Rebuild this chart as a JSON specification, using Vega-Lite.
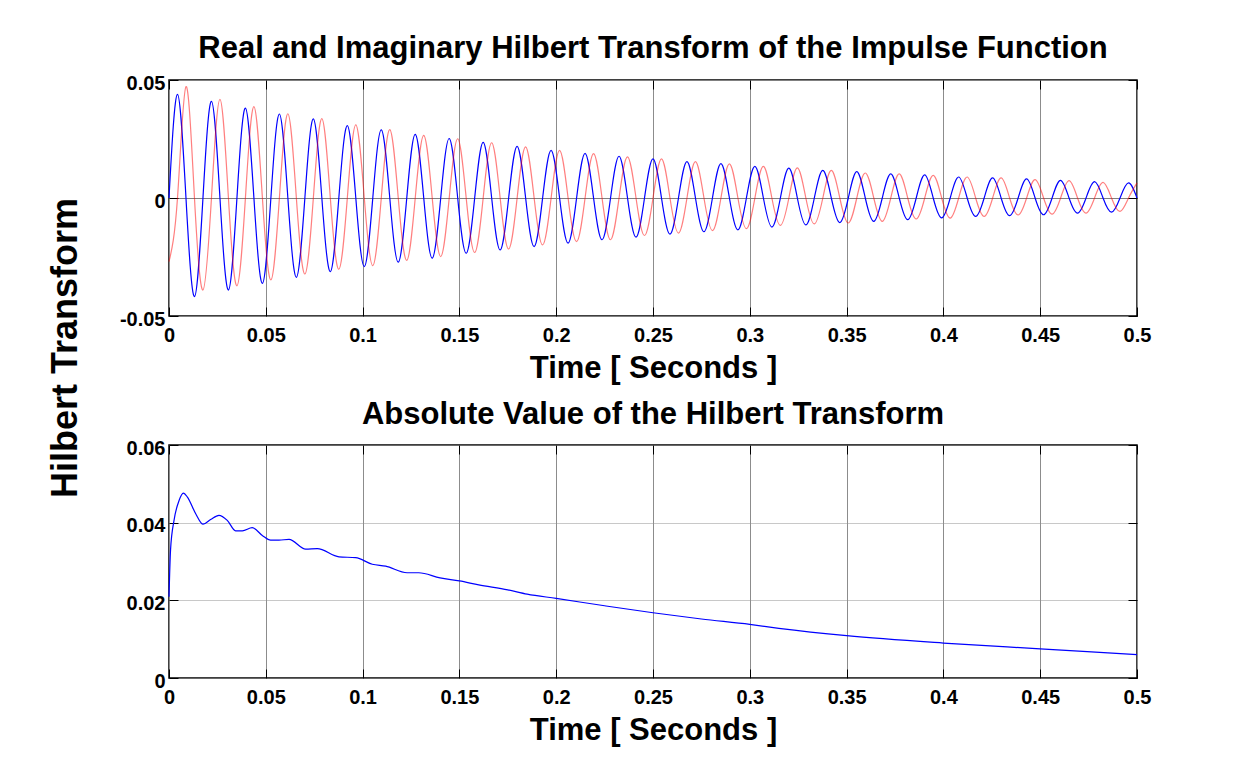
{
  "$schema": "https://vega.github.io/schema/vega-lite/v6.json",
  "background": "white",
  "padding": {"left": 46, "top": 32, "right": 20, "bottom": 10},
  "bounds": "flush",
  "spacing": 129,
  "datasets": {
    "imag": [
      {"t":0,"v":0},{"t":0.00439,"v":0.0439},{"t":0.00877,"v":0},{"t":0.01316,"v":-0.0418},
      {"t":0.01754,"v":0},{"t":0.02193,"v":0.041},{"t":0.02632,"v":0},{"t":0.0307,"v":-0.039},
      {"t":0.03509,"v":0},{"t":0.03947,"v":0.0381},{"t":0.04386,"v":0},{"t":0.04825,"v":-0.0362},
      {"t":0.05263,"v":0},{"t":0.05702,"v":0.0356},{"t":0.0614,"v":0},{"t":0.06579,"v":-0.0336},
      {"t":0.07018,"v":0},{"t":0.07456,"v":0.0335},{"t":0.07895,"v":0},{"t":0.08333,"v":-0.0312},
      {"t":0.08772,"v":0},{"t":0.09211,"v":0.0307},{"t":0.09649,"v":0},{"t":0.10088,"v":-0.0291},
      {"t":0.10526,"v":0},{"t":0.10965,"v":0.0289},{"t":0.11404,"v":0},{"t":0.11842,"v":-0.0272},
      {"t":0.12281,"v":0},{"t":0.12719,"v":0.027},{"t":0.13158,"v":0},{"t":0.13596,"v":-0.0255},
      {"t":0.14035,"v":0},{"t":0.14474,"v":0.0252},{"t":0.14912,"v":0},{"t":0.15351,"v":-0.0234},
      {"t":0.15789,"v":0},{"t":0.16228,"v":0.0236},{"t":0.16667,"v":0},{"t":0.17105,"v":-0.022},
      {"t":0.17544,"v":0},{"t":0.17982,"v":0.0219},{"t":0.18421,"v":0},{"t":0.1886,"v":-0.0206},
      {"t":0.19298,"v":0},{"t":0.19737,"v":0.0202},{"t":0.20175,"v":0},{"t":0.20614,"v":-0.0191},
      {"t":0.21053,"v":0},{"t":0.21491,"v":0.0189},{"t":0.2193,"v":0},{"t":0.22368,"v":-0.0177},
      {"t":0.22807,"v":0},{"t":0.23246,"v":0.0177},{"t":0.23684,"v":0},{"t":0.24123,"v":-0.0166},
      {"t":0.24561,"v":0},{"t":0.25,"v":0.0166},{"t":0.25439,"v":0},{"t":0.25877,"v":-0.0153},
      {"t":0.26316,"v":0},{"t":0.26754,"v":0.0154},{"t":0.27193,"v":0},{"t":0.27632,"v":-0.0143},
      {"t":0.2807,"v":0},{"t":0.28509,"v":0.0146},{"t":0.28947,"v":0},{"t":0.29386,"v":-0.0135},
      {"t":0.29825,"v":0},{"t":0.30263,"v":0.0134},{"t":0.30702,"v":0},{"t":0.3114,"v":-0.0123},
      {"t":0.31579,"v":0},{"t":0.32018,"v":0.0127},{"t":0.32456,"v":0},{"t":0.32895,"v":-0.0114},
      {"t":0.33333,"v":0},{"t":0.33772,"v":0.0117},{"t":0.34211,"v":0},{"t":0.34649,"v":-0.0104},
      {"t":0.35088,"v":0},{"t":0.35526,"v":0.0112},{"t":0.35965,"v":0},{"t":0.36404,"v":-0.0099},
      {"t":0.36842,"v":0},{"t":0.37281,"v":0.0102},{"t":0.37719,"v":0},{"t":0.38158,"v":-0.0092},
      {"t":0.38596,"v":0},{"t":0.39035,"v":0.0098},{"t":0.39474,"v":0},{"t":0.39912,"v":-0.0084},
      {"t":0.40351,"v":0},{"t":0.40789,"v":0.0089},{"t":0.41228,"v":0},{"t":0.41667,"v":-0.0078},
      {"t":0.42105,"v":0},{"t":0.42544,"v":0.0085},{"t":0.42982,"v":0},{"t":0.43421,"v":-0.0075},
      {"t":0.4386,"v":0},{"t":0.44298,"v":0.0081},{"t":0.44737,"v":0},{"t":0.45175,"v":-0.0071},
      {"t":0.45614,"v":0},{"t":0.46053,"v":0.0075},{"t":0.46491,"v":0},{"t":0.4693,"v":-0.0064},
      {"t":0.47368,"v":0},{"t":0.47807,"v":0.0069},{"t":0.48246,"v":0},{"t":0.48684,"v":-0.006},
      {"t":0.49123,"v":0},{"t":0.49561,"v":0.0064},{"t":0.5,"v":0}
    ],
    "real": [
      {"t":0,"v":-0.027},{"t":0.00439,"v":0},{"t":0.00877,"v":0.0472},{"t":0.01316,"v":0},
      {"t":0.01754,"v":-0.039},{"t":0.02193,"v":0},{"t":0.02632,"v":0.0418},{"t":0.0307,"v":0},
      {"t":0.03509,"v":-0.0372},{"t":0.03947,"v":0},{"t":0.04386,"v":0.0387},{"t":0.04825,"v":0},
      {"t":0.05263,"v":-0.0347},{"t":0.05702,"v":0},{"t":0.0614,"v":0.0357},{"t":0.06579,"v":0},
      {"t":0.07018,"v":-0.0322},{"t":0.07456,"v":0},{"t":0.07895,"v":0.0336},{"t":0.08333,"v":0},
      {"t":0.08772,"v":-0.0302},{"t":0.09211,"v":0},{"t":0.09649,"v":0.031},{"t":0.10088,"v":0},
      {"t":0.10526,"v":-0.0287},{"t":0.10965,"v":0},{"t":0.11404,"v":0.029},{"t":0.11842,"v":0},
      {"t":0.12281,"v":-0.0264},{"t":0.12719,"v":0},{"t":0.13158,"v":0.0265},{"t":0.13596,"v":0},
      {"t":0.14035,"v":-0.0248},{"t":0.14474,"v":0},{"t":0.14912,"v":0.0251},{"t":0.15351,"v":0},
      {"t":0.15789,"v":-0.0231},{"t":0.16228,"v":0},{"t":0.16667,"v":0.0234},{"t":0.17105,"v":0},
      {"t":0.17544,"v":-0.0216},{"t":0.17982,"v":0},{"t":0.18421,"v":0.0217},{"t":0.1886,"v":0},
      {"t":0.19298,"v":-0.0199},{"t":0.19737,"v":0},{"t":0.20175,"v":0.0202},{"t":0.20614,"v":0},
      {"t":0.21053,"v":-0.0185},{"t":0.21491,"v":0},{"t":0.2193,"v":0.0188},{"t":0.22368,"v":0},
      {"t":0.22807,"v":-0.0177},{"t":0.23246,"v":0},{"t":0.23684,"v":0.0174},{"t":0.24123,"v":0},
      {"t":0.24561,"v":-0.0159},{"t":0.25,"v":0},{"t":0.25439,"v":0.0166},{"t":0.25877,"v":0},
      {"t":0.26316,"v":-0.0149},{"t":0.26754,"v":0},{"t":0.27193,"v":0.0154},{"t":0.27632,"v":0},
      {"t":0.2807,"v":-0.0138},{"t":0.28509,"v":0},{"t":0.28947,"v":0.0145},{"t":0.29386,"v":0},
      {"t":0.29825,"v":-0.013},{"t":0.30263,"v":0},{"t":0.30702,"v":0.0134},{"t":0.3114,"v":0},
      {"t":0.31579,"v":-0.0116},{"t":0.32018,"v":0},{"t":0.32456,"v":0.0128},{"t":0.32895,"v":0},
      {"t":0.33333,"v":-0.011},{"t":0.33772,"v":0},{"t":0.34211,"v":0.0117},{"t":0.34649,"v":0},
      {"t":0.35088,"v":-0.0106},{"t":0.35526,"v":0},{"t":0.35965,"v":0.0106},{"t":0.36404,"v":0},
      {"t":0.36842,"v":-0.0099},{"t":0.37281,"v":0},{"t":0.37719,"v":0.0102},{"t":0.38158,"v":0},
      {"t":0.38596,"v":-0.0089},{"t":0.39035,"v":0},{"t":0.39474,"v":0.0096},{"t":0.39912,"v":0},
      {"t":0.40351,"v":-0.0085},{"t":0.40789,"v":0},{"t":0.41228,"v":0.0089},{"t":0.41667,"v":0},
      {"t":0.42105,"v":-0.0078},{"t":0.42544,"v":0},{"t":0.42982,"v":0.0085},{"t":0.43421,"v":0},
      {"t":0.4386,"v":-0.0072},{"t":0.44298,"v":0},{"t":0.44737,"v":0.0078},{"t":0.45175,"v":0},
      {"t":0.45614,"v":-0.0068},{"t":0.46053,"v":0},{"t":0.46491,"v":0.0074},{"t":0.4693,"v":0},
      {"t":0.47368,"v":-0.0064},{"t":0.47807,"v":0},{"t":0.48246,"v":0.0066},{"t":0.48684,"v":0},
      {"t":0.49123,"v":-0.0057},{"t":0.49561,"v":0},{"t":0.5,"v":0.0064}
    ],
    "env": [
      {"t":0,"v":0.0209},{"t":0.0008,"v":0.033},{"t":0.0026,"v":0.0406},{"t":0.0052,"v":0.0457},
      {"t":0.0074,"v":0.0476},{"t":0.0095,"v":0.0466},{"t":0.0138,"v":0.0423},{"t":0.0176,"v":0.0396},
      {"t":0.0215,"v":0.0408},{"t":0.0258,"v":0.0419},{"t":0.0301,"v":0.0406},{"t":0.0344,"v":0.0379},
      {"t":0.0379,"v":0.0379},{"t":0.043,"v":0.0387},{"t":0.0482,"v":0.0367},{"t":0.0525,"v":0.0355},
      {"t":0.0568,"v":0.0355},{"t":0.062,"v":0.0357},{"t":0.0706,"v":0.0332},{"t":0.0766,"v":0.0333},
      {"t":0.0878,"v":0.0312},{"t":0.0964,"v":0.031},{"t":0.105,"v":0.0293},{"t":0.1119,"v":0.0288},
      {"t":0.123,"v":0.0271},{"t":0.129,"v":0.0271},{"t":0.14,"v":0.0258},{"t":0.15,"v":0.025},
      {"t":0.16,"v":0.024},{"t":0.175,"v":0.0227},{"t":0.185,"v":0.0216},{"t":0.2,"v":0.0205},
      {"t":0.225,"v":0.0186},{"t":0.25,"v":0.0168},{"t":0.275,"v":0.0152},{"t":0.3,"v":0.0138},
      {"t":0.315,"v":0.0128},{"t":0.35,"v":0.0109},{"t":0.4,"v":0.009},{"t":0.45,"v":0.0075},
      {"t":0.5,"v":0.006}
    ]
  },
  "vconcat": [
    {
      "width": 968,
      "height": 236,
      "title": {"text": "Real and Imaginary Hilbert Transform of the Impulse Function", "offset": 8},
      "layer": [
        {
          "data": {"name": "imag"},
          "mark": {"type": "line", "color": "#0000ff", "strokeWidth": 1.2, "interpolate": "natural"},
          "encoding": {
            "x": {"field": "t", "type": "quantitative",
              "scale": {"domain": [0, 0.5], "nice": false, "zero": false},
              "axis": {"orient": "bottom", "values": [0,0.05,0.1,0.15,0.2,0.25,0.3,0.35,0.4,0.45,0.5],
                "labelExpr": "replace(format(datum.value, '.2~f'), '\u2212', '-')",
                "title": "Time [ Seconds ]", "titleY": 61, "titleBaseline": "alphabetic",
                "labelPadding": 18, "grid": true}},
            "y": {"field": "v", "type": "quantitative",
              "scale": {"domain": [-0.05, 0.05], "nice": false, "zero": false},
              "axis": {"orient": "left", "values": [-0.05, 0, 0.05],
                "labelExpr": "replace(format(datum.value, '.2~f'), '\u2212', '-')",
                "title": "Hilbert Transform", "titleFontSize": 36, "titleAngle": 270,
                "titleX": -93, "titleY": 267.5, "titleBaseline": "alphabetic", "titleAlign": "center",
                "labelPadding": 13, "labelBaseline": "alphabetic", "labelOffset": 9,
                "grid": true, "gridColor": "#808080"}}
          }
        },
        {
          "data": {"name": "real"},
          "mark": {"type": "line", "color": "#ff0000", "opacity": 0.5, "strokeWidth": 1.2, "interpolate": "natural"},
          "encoding": {
            "x": {"field": "t", "type": "quantitative",
              "scale": {"domain": [0, 0.5], "nice": false, "zero": false},
              "axis": {"orient": "top", "values": [0,0.05,0.1,0.15,0.2,0.25,0.3,0.35,0.4,0.45,0.5],
                "labels": false, "title": null, "grid": false}},
            "y": {"field": "v", "type": "quantitative",
              "scale": {"domain": [-0.05, 0.05], "nice": false, "zero": false},
              "axis": {"orient": "right", "values": [-0.05, 0, 0.05], "labels": false, "title": null, "grid": false}}
          }
        }
      ]
    },
    {
      "width": 968,
      "height": 233,
      "title": {"text": "Absolute Value of the Hilbert Transform", "offset": 7},
      "layer": [
        {
          "data": {"name": "env"},
          "mark": {"type": "line", "color": "#0000ff", "strokeWidth": 1.2, "interpolate": "monotone"},
          "encoding": {
            "x": {"field": "t", "type": "quantitative",
              "scale": {"domain": [0, 0.5], "nice": false, "zero": false},
              "axis": {"orient": "bottom", "values": [0,0.05,0.1,0.15,0.2,0.25,0.3,0.35,0.4,0.45,0.5],
                "labelExpr": "replace(format(datum.value, '.2~f'), '\u2212', '-')",
                "title": "Time [ Seconds ]", "titleY": 61, "titleBaseline": "alphabetic",
                "labelPadding": 18, "grid": true}},
            "y": {"field": "v", "type": "quantitative",
              "scale": {"domain": [0, 0.06], "nice": false, "zero": false},
              "axis": {"orient": "left", "values": [0, 0.02, 0.04, 0.06],
                "labelExpr": "format(datum.value, '.2~f')",
                "title": null, "labelPadding": 13, "labelBaseline": "alphabetic", "labelOffset": 9,
                "grid": true, "gridColor": "#909090", "gridDash": [1, 1]}}
          }
        },
        {
          "data": {"name": "env"},
          "mark": {"type": "line", "strokeOpacity": 0},
          "encoding": {
            "x": {"field": "t", "type": "quantitative",
              "scale": {"domain": [0, 0.5], "nice": false, "zero": false},
              "axis": {"orient": "top", "values": [0,0.05,0.1,0.15,0.2,0.25,0.3,0.35,0.4,0.45,0.5],
                "labels": false, "title": null, "grid": false}},
            "y": {"field": "v", "type": "quantitative",
              "scale": {"domain": [0, 0.06], "nice": false, "zero": false},
              "axis": {"orient": "right", "values": [0, 0.02, 0.04, 0.06], "labels": false, "title": null, "grid": false}}
          }
        }
      ]
    }
  ],
  "config": {
    "font": "Liberation Sans",
    "view": {"stroke": "#000000", "strokeWidth": 1.5},
    "axis": {
      "labelFont": "Liberation Sans", "labelFontWeight": "bold", "labelFontSize": 20, "labelColor": "#000000",
      "titleFont": "Liberation Sans", "titleFontWeight": "bold", "titleFontSize": 31, "titleColor": "#000000",
      "domain": false, "ticks": true, "tickColor": "#000000", "tickSize": -9, "tickWidth": 1,
      "gridColor": "#8c8c8c", "gridWidth": 1, "gridOpacity": 1,
      "labelFlush": false, "labelOverlap": false
    },
    "title": {
      "font": "Liberation Sans", "fontWeight": "bold", "fontSize": 31, "color": "#000000",
      "frame": "group", "baseline": "alphabetic", "anchor": "middle"
    }
  }
}
